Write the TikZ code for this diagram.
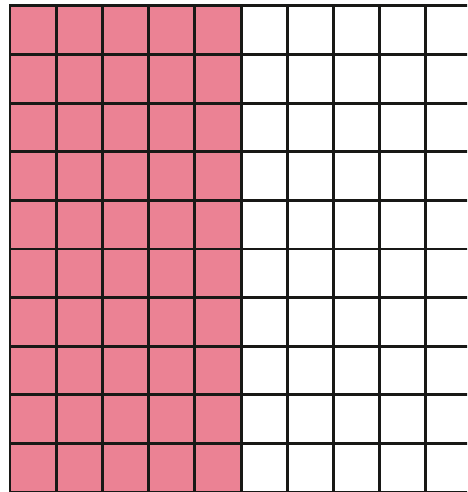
\documentclass[tikz,border=0pt]{standalone}
\usepackage{tikz}
\usepackage{xcolor}
\definecolor{gridpink}{RGB}{235,130,148}
\definecolor{gridink}{RGB}{24,24,22}

\begin{document}
\begin{tikzpicture}[x=0.02cm,y=-0.02cm,line cap=rect]
  \useasboundingbox (0,0) rectangle (467,492);
  \clip (0,0) rectangle (467,492);
  % shaded half
  \fill[gridpink] (10,6) rectangle (241,493);
  % grid lines
  \foreach \i in {0,...,10}
    \draw[gridink,line width=1.7pt] ({10+46.2*\i},6) -- ({10+46.2*\i},495);
  \foreach \j in {0,...,10}
    \draw[gridink,line width=1.7pt] (10,{6+48.6*\j}) -- (470,{6+48.6*\j});
\end{tikzpicture}
\end{document}
